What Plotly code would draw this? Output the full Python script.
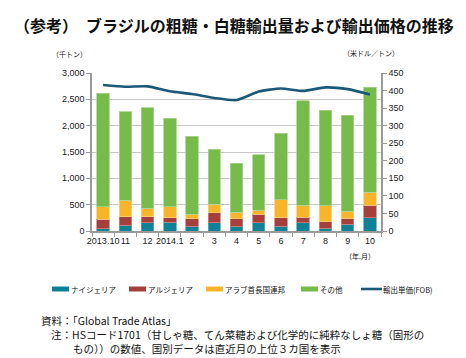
import plotly.graph_objects as go

months = ["2013.10", "11", "12", "2014.1", "2", "3", "4", "5", "6", "7", "8", "9", "10"]
nigeria = [40, 108, 152, 165, 89, 159, 95, 160, 89, 159, 50, 125, 250]
algeria = [180, 158, 121, 89, 139, 190, 133, 160, 158, 101, 129, 116, 243]
uae = [245, 322, 158, 209, 89, 158, 127, 70, 343, 228, 302, 137, 243]
others = [2155, 1672, 1909, 1677, 1483, 1043, 932, 1062, 1262, 1986, 1815, 1816, 1991]
price = [416, 411, 412, 398, 390, 379, 373, 397, 406, 399, 409, 404, 389]

names = ["ナイジェリア", "アルジェリア", "アラブ首長国連邦", "その他", "輸出単価(FOB)"]
colors = ["#0F8196", "#A53F3B", "#F9B52A", "#77BB4B", "#1C5877"]
edges = ["#5FA9B8", "#C98580", "#FBD27E", "#A9D58E"]

FONT = "Noto Sans CJK JP"
L, R, T, B = 84, 373, 65, 223
W, H = 466, 358

def px(x):
    return (x - L) / (R - L)

def py(y):
    return (B - y) / (B - T)

fig = go.Figure()
for vals, nm, c, e in zip([nigeria, algeria, uae, others], names[:4], colors[:4], edges):
    fig.add_trace(go.Bar(x=months, y=vals, name=nm, marker=dict(color=c, line=dict(color=e, width=0.8)),
                         width=0.56, showlegend=False))
fig.add_trace(go.Scatter(x=months, y=price, name=names[4], yaxis="y2", mode="lines",
                         line=dict(color=colors[4], width=2.6, shape="spline", smoothing=0.6),
                         showlegend=False))

tickfont = dict(family="Liberation Sans", size=9, color="#222")
fig.update_layout(
    width=W, height=H,
    margin=dict(l=L, r=W - R, t=T, b=H - B),
    barmode="stack",
    bargap=0.44,
    plot_bgcolor="white", paper_bgcolor="white",
    font=dict(family=FONT, size=8, color="#222"),
    xaxis=dict(type="category", showline=True, linecolor="#9a9a9a", linewidth=1.5,
               ticks="outside", tickson="boundaries", ticklen=4, tickcolor="#9a9a9a",
               tickangle=0, automargin=False,
               tickfont=tickfont, showgrid=False),
    yaxis=dict(range=[0, 3000], dtick=500, tickformat=",", showline=True, linecolor="#9a9a9a",
               linewidth=1.5, ticks="outside", ticklen=4, tickcolor="#9a9a9a",
               gridcolor="#c8c8c8", gridwidth=1, automargin=False,
               tickfont=tickfont, zeroline=False),
    yaxis2=dict(range=[0, 450], dtick=50, overlaying="y", side="right", showline=True,
                linecolor="#9a9a9a", linewidth=1.5, ticks="outside", ticklen=4, tickcolor="#9a9a9a",
                showgrid=False, tickfont=tickfont, automargin=False,
                zeroline=False),
)

ann = []
def text(x, y, s, size=8, xanchor="left", bold=False, yanchor="middle"):
    ann.append(dict(x=px(x), y=py(y), xref="paper", yref="paper", text=("<b>%s</b>" % s if bold else s),
                    showarrow=False, xanchor=xanchor, yanchor=yanchor, align="left", borderpad=0,
                    font=dict(family=FONT, size=size, color="#111")))

text(5, 17, "（参考）　ブラジルの粗糖・白糖輸出量および輸出価格の推移", size=16, bold=True)
text(61, 46, "（千トン）", size=7, xanchor="center")
text(363, 45, "（米ドル／トン）", size=7, xanchor="center")
text(352, 248, "（年.月）", size=7, xanchor="center")

# legend
shapes = []
leg_y = 281
sw = [(44, 0), (121, 1), (198, 2), (293, 3)]
for x0, i in sw:
    shapes.append(dict(type="rect", xref="paper", yref="paper", x0=px(x0), x1=px(x0 + 17),
                       y0=py(leg_y + 2.5), y1=py(leg_y - 2.5), fillcolor=colors[i], line=dict(width=0)))
    text(x0 + 18, leg_y, names[i], size=7.5)
shapes.append(dict(type="line", xref="paper", yref="paper", x0=px(353), x1=px(374),
                   y0=py(leg_y), y1=py(leg_y), line=dict(color=colors[4], width=2.6)))
text(374, leg_y, "輸出単価(FOB)", size=7.5)

text(32, 312, "資料：「Global Trade Atlas」", size=10.5)
text(42, 326, "注：HSコード1701（甘しゃ糖、てん菜糖および化学的に純粋なしょ糖（固形の", size=10.5)
text(64, 340, "もの））の数値、国別データは直近月の上位３カ国を表示", size=10.5)

fig.update_layout(annotations=ann, shapes=shapes)
fig.write_html("out.html")
